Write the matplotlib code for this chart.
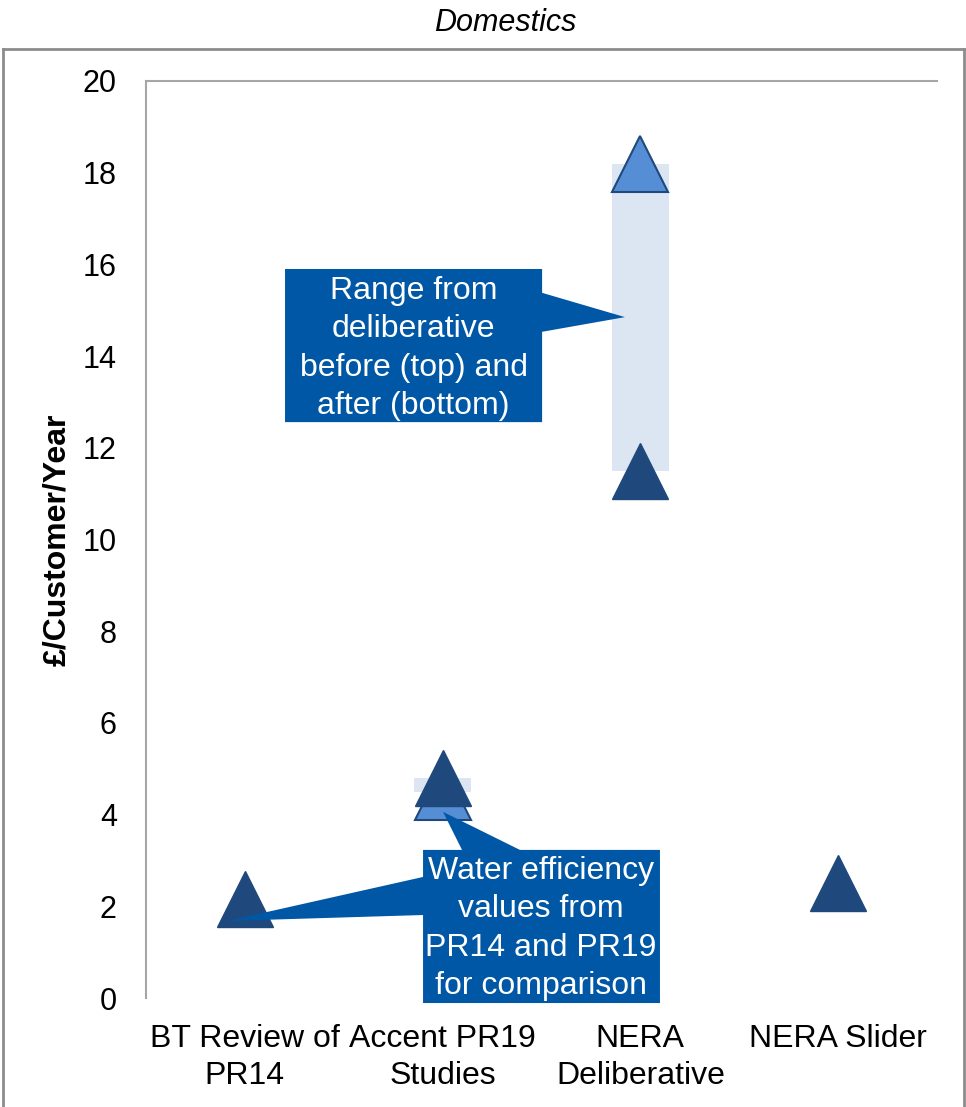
import matplotlib
matplotlib.use("Agg")
import matplotlib.pyplot as plt
import numpy as np
from matplotlib.patches import Polygon
from matplotlib.lines import Line2D

plt.rcParams['font.family'] = ['Liberation Sans', 'DejaVu Sans']

# ---- data ----
categories = ["BT Review of\nPR14", "Accent PR19\nStudies", "NERA\nDeliberative", "NERA Slider"]
before_values = [np.nan, 4.5, 18.2, np.nan]   # light triangles
after_values = [2.15, 4.8, 11.5, 2.5]         # dark triangles
range_low = [np.nan, 4.5, 11.5, np.nan]
range_high = [np.nan, 4.8, 18.2, np.nan]
yticks = list(range(0, 21, 2))
title = "Domestics"
ylabel = "£/Customer/Year"
callout1_text = "Range from\ndeliberative\nbefore (top) and\nafter (bottom)"
callout2_text = "Water efficiency\nvalues from\nPR14 and PR19\nfor comparison"

DARK = '#1F497D'
LIGHT = '#558ED5'
RANGE = '#DCE6F2'
CALLOUT = '#0057A6'
GRAY = '#A6A6A6'

fig = plt.figure(figsize=(9.66, 11.07), dpi=100)
ax = fig.add_axes([146/966, 109/1107, 791/966, 917/1107])

x = np.arange(len(categories)) + 0.5
low = np.array(range_low)
high = np.array(range_high)
ax.bar(x, high - low, bottom=low, width=0.29, color=RANGE, zorder=1)
ax.plot(x, before_values, '^', ms=40, mfc=LIGHT, mec=DARK, mew=1.5, ls='none', zorder=3, clip_on=False)
ax.plot(x, after_values, '^', ms=40, mfc=DARK, mec=DARK, mew=1.0, ls='none', zorder=4, clip_on=False)

ax.set_xlim(0, 4)
ax.set_ylim(0, 20)
ax.set_yticks(yticks)
ax.set_xticks(x, categories)
ax.tick_params(axis='y', length=0, pad=21, labelsize=22)
ax.tick_params(axis='x', length=0, pad=19, labelsize=23)
for lab in ax.get_xticklabels():
    lab.set_linespacing(1.3)
for s in ['right', 'bottom']:
    ax.spines[s].set_visible(False)
for s in ['left', 'top']:
    ax.spines[s].set_color(GRAY)
    ax.spines[s].set_linewidth(1.5)

fig.text(57/966, 1 - 540/1107, ylabel, rotation=90, fontsize=23, fontweight='bold',
         ha='center', va='center')
fig.text(505/966, 1 - 23/1107, title, style='italic', fontsize=22, ha='center', va='center')

# outer frame
ftop = 1 - 49/1107
for xs, ys in [([3/966, 3/966], [0, ftop]), ([3/966, 964/966], [ftop, ftop]),
               ([964/966, 964/966], [ftop, 0])]:
    fig.add_artist(Line2D(xs, ys, transform=fig.transFigure, color='#8C8C8C', lw=2))

# callout 1
c1 = [(0.703, 12.56), (0.703, 15.90), (2.003, 15.90), (2.003, 15.38), (2.422, 14.85),
      (2.003, 14.53), (2.003, 12.56)]
ax.add_patch(Polygon(c1, closed=True, facecolor=CALLOUT, edgecolor='none', zorder=6, clip_on=False))
ax.text(1.353, 14.17, callout1_text, color='white', fontsize=23, ha='center', va='center',
        multialignment='center', linespacing=1.37, zorder=7)

# callout 2
c2 = [(1.401, 3.23), (1.598, 3.23), (1.502, 4.06), (1.891, 3.23), (2.599, 3.23),
      (2.599, -0.11), (1.401, -0.11), (1.401, 1.81), (0.410, 1.68), (1.401, 2.64)]
ax.add_patch(Polygon(c2, closed=True, facecolor=CALLOUT, edgecolor='none', zorder=6, clip_on=False))
ax.text(1.997, 1.52, callout2_text, color='white', fontsize=23, ha='center', va='center',
        multialignment='center', linespacing=1.37, zorder=7)

fig.savefig('out.png', dpi=100)
